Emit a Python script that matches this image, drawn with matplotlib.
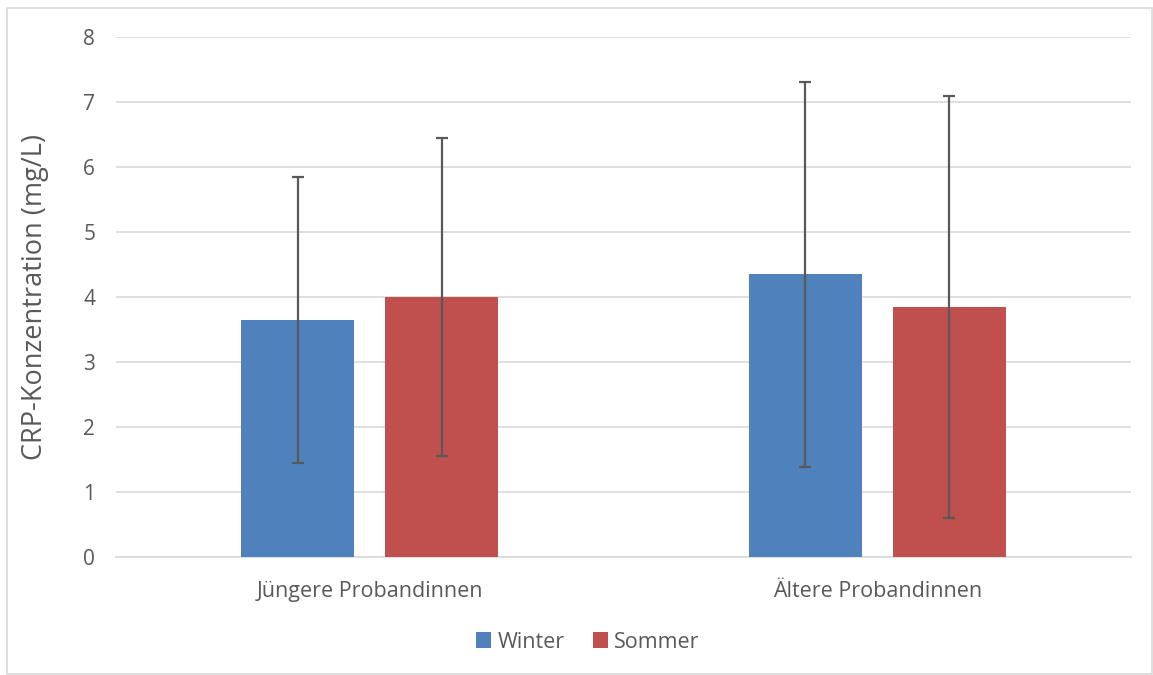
import numpy as np
import matplotlib
matplotlib.use("Agg")
import matplotlib.pyplot as plt
from matplotlib.patches import Rectangle

groups = ["Jüngere Probandinnen", "Ältere Probandinnen"]
series = ["Winter", "Sommer"]
winter_mean = [3.65, 4.35]
winter_sd = [2.20, 2.96]
sommer_mean = [4.00, 3.85]
sommer_sd = [2.44, 3.25]

colors = {"Winter": "#4F81BD", "Sommer": "#C0504D"}
text_col = "#595959"

plt.rcParams["font.family"] = ["Open Sans", "DejaVu Sans"]

fig = plt.figure(figsize=(11.53, 6.75), dpi=100)
ax = fig.add_axes([116 / 1153, 1 - 557 / 675, 1015 / 1153, 520 / 675])

# chart border
fig.patches.append(Rectangle((7 / 1153, 0.002), 1 - 8 / 1153, 1 - 8 / 675 - 0.002,
                             transform=fig.transFigure, fill=False,
                             edgecolor="#D9D9D9", linewidth=1.2))

x = np.arange(len(groups))
w = 0.223
off = 0.142
err_kw = dict(ecolor="#595959", elinewidth=1.6, capsize=4, capthick=1.6)
ax.bar(x - off, winter_mean, w, yerr=winter_sd, color=colors["Winter"],
       label="Winter", error_kw=err_kw, zorder=3)
ax.bar(x + off, sommer_mean, w, yerr=sommer_sd, color=colors["Sommer"],
       label="Sommer", error_kw=err_kw, zorder=3)

ax.set_xlim(-0.5, 1.5)
ax.set_ylim(0, 8)
ax.set_yticks(range(0, 9))
ax.set_xticks(x)
ax.set_xticklabels(groups)
ax.grid(axis="y", color="#D9D9D9", linewidth=1.2, zorder=0)
for s in ["top", "right", "left"]:
    ax.spines[s].set_visible(False)
ax.spines["bottom"].set_color("#D9D9D9")
ax.spines["bottom"].set_linewidth(1.2)
ax.tick_params(axis="both", length=0, colors=text_col)
ax.tick_params(axis="y", pad=15, labelsize=15)
ax.tick_params(axis="x", pad=17, labelsize=15.5)
ax.set_ylabel("CRP-Konzentration (mg/L)", color=text_col, fontsize=19.5)
ax.yaxis.set_label_coords(-0.066, 0.5)

fig.legend(loc="center", bbox_to_anchor=(588 / 1153, 1 - 642 / 675), ncol=2,
           frameon=False, fontsize=15.5, labelcolor=text_col, handlelength=0.7,
           handleheight=0.7, handletextpad=0.3, columnspacing=1.3)

fig.savefig("out.png", dpi=100)
